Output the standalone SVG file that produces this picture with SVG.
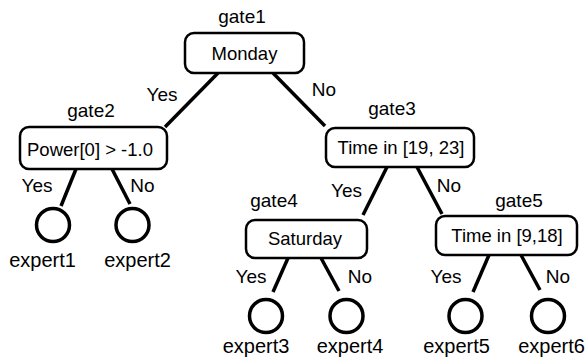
<svg xmlns="http://www.w3.org/2000/svg" width="587" height="358" viewBox="0 0 587 358">
  <style>
    text { font-family: "Liberation Sans", Arial, sans-serif; fill: #000; text-anchor: middle; }
    .lbl { font-size: 19px; }
    .name { font-size: 20px; }
    .box-text { font-size: 18.5px; }
    .box { fill: #fff; stroke: #000; stroke-width: 2.5; }
    .leaf { fill: #fff; stroke: #000; stroke-width: 3.5; }
    .edge { stroke: #000; stroke-width: 3.5; fill: none; }
  </style>
  <rect width="587" height="358" fill="#fff"/>

  <g id="connectors">
    <line class="edge" x1="218" y1="73" x2="165" y2="127"/>
    <line class="edge" x1="273" y1="73" x2="325" y2="126"/>
    <line class="edge" x1="76" y1="169" x2="61" y2="206"/>
    <line class="edge" x1="112" y1="169" x2="130" y2="204"/>
    <line class="edge" x1="387" y1="167" x2="363" y2="215"/>
    <line class="edge" x1="417" y1="167" x2="442" y2="214"/>
    <line class="edge" x1="288" y1="258" x2="273" y2="292"/>
    <line class="edge" x1="321" y1="258" x2="339" y2="291"/>
    <line class="edge" x1="489" y1="255" x2="473" y2="292"/>
    <line class="edge" x1="521" y1="255" x2="540" y2="290"/>
    <text class="lbl" x="162" y="101">Yes</text>
    <text class="lbl" x="324" y="96">No</text>
    <text class="lbl" x="37" y="192">Yes</text>
    <text class="lbl" x="142.5" y="192">No</text>
    <text class="lbl" x="346.5" y="197">Yes</text>
    <text class="lbl" x="449" y="192">No</text>
    <text class="lbl" x="251" y="283">Yes</text>
    <text class="lbl" x="360" y="283">No</text>
    <text class="lbl" x="446" y="283">Yes</text>
    <text class="lbl" x="558" y="283">No</text>
  </g>

  <g id="gate1">
    <text class="lbl" x="242" y="23">gate1</text>
    <rect class="box" x="185" y="33" width="119" height="40" rx="9"/>
    <text class="box-text" x="244.5" y="60">Monday</text>
  </g>
  <g id="gate2">
    <text class="lbl" x="91" y="117">gate2</text>
    <rect class="box" x="20" y="127" width="147" height="42" rx="9"/>
    <text class="box-text" x="90" y="156">Power[0] &gt; -1.0</text>
  </g>
  <g id="gate3">
    <text class="lbl" x="392" y="115">gate3</text>
    <rect class="box" x="326" y="128" width="148" height="39" rx="9"/>
    <text class="box-text" x="401" y="154">Time in [19, 23]</text>
  </g>
  <g id="gate4">
    <text class="lbl" x="274" y="207">gate4</text>
    <rect class="box" x="246" y="220" width="121" height="38" rx="9"/>
    <text class="box-text" x="305" y="245">Saturday</text>
  </g>
  <g id="gate5">
    <text class="lbl" x="519" y="207">gate5</text>
    <rect class="box" x="436" y="216" width="141" height="39" rx="9"/>
    <text class="box-text" x="507" y="242">Time in [9,18]</text>
  </g>

  <g id="expert1">
    <circle class="leaf" cx="53" cy="225" r="16.5"/>
    <text class="name" x="42.5" y="267">expert1</text>
  </g>
  <g id="expert2">
    <circle class="leaf" cx="132.5" cy="225" r="16.5"/>
    <text class="name" x="137.5" y="267">expert2</text>
  </g>
  <g id="expert3">
    <circle class="leaf" cx="266" cy="316" r="16.5"/>
    <text class="name" x="256" y="353">expert3</text>
  </g>
  <g id="expert4">
    <circle class="leaf" cx="346.5" cy="316" r="16.5"/>
    <text class="name" x="350" y="353">expert4</text>
  </g>
  <g id="expert5">
    <circle class="leaf" cx="465.5" cy="316" r="16.5"/>
    <text class="name" x="456.5" y="353">expert5</text>
  </g>
  <g id="expert6">
    <circle class="leaf" cx="548" cy="316" r="16.5"/>
    <text class="name" x="551.5" y="353">expert6</text>
  </g>
</svg>
